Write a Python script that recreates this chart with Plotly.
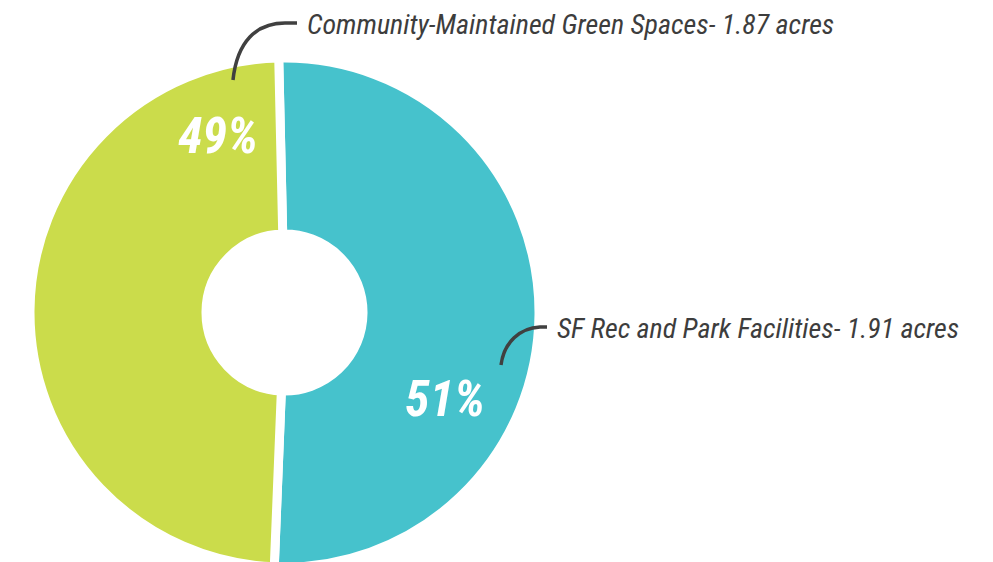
import plotly.graph_objects as go

# ---- data ----
categories = ["SF Rec and Park Facilities", "Community-Maintained Green Spaces"]
acres = [1.91, 1.87]
percents = [51, 49]
colors = ["#46C2CC", "#CBDC4B"]

W, H = 993, 562
OFF = 8          # page body margin of the html page
MT, MB = 50, 3
PH = H - MT - MB

def px(x):
    return (x - OFF) / W

def py(y):
    return (H - MB - (y - OFF)) / PH

cx, r = 284.5 - OFF, 254.5
fig = go.Figure(go.Pie(
    labels=categories,
    values=percents,
    marker=dict(colors=colors, line=dict(color="white", width=9)),
    hole=0.3085,
    sort=False,
    direction="clockwise",
    rotation=-1.3,
    textinfo="none",
    hoverinfo="label+percent",
    showlegend=False,
    domain=dict(x=[(cx - r) / W, (cx + r) / W], y=[0, 1]),
))

FAM = "Roboto Condensed, Noto Sans Condensed, Liberation Sans Narrow, DejaVu Sans Condensed, sans-serif"
label_font = dict(family=FAM, size=28, color="#3d3d3d", style="italic")
pct_font = dict(family=FAM, size=50, color="white", weight="bold", style="italic")

anns = [
    dict(x=px(305), y=py(25), text=f"{categories[1]}- {acres[1]} acres",
         xanchor="left", yanchor="middle", font=label_font),
    dict(x=px(555), y=py(328), text=f"{categories[0]}- {acres[0]} acres",
         xanchor="left", yanchor="middle", font=label_font),
    dict(x=px(218), y=py(136), text=f"{percents[1]}%",
         xanchor="center", yanchor="middle", font=pct_font),
    dict(x=px(445), y=py(399), text=f"{percents[0]}%",
         xanchor="center", yanchor="middle", font=pct_font),
]
for a in anns:
    a.update(xref="paper", yref="paper", showarrow=False)

def path(pts):
    (x0, y0), (x1, y1), (x2, y2), (x3, y3), (x4, y4) = pts
    return (f"M {px(x0)},{py(y0)} C {px(x1)},{py(y1)} {px(x2)},{py(y2)} {px(x3)},{py(y3)} "
            f"L {px(x4)},{py(y4)}")

line_style = dict(color="#404040", width=3.5)
shapes = [
    dict(type="path", xref="paper", yref="paper",
         path=path([(233, 80), (237, 42), (256, 23), (285, 23), (297, 23)]),
         line=line_style),
    dict(type="path", xref="paper", yref="paper",
         path=path([(501, 365), (504, 342), (520, 328), (540, 327), (547, 327)]),
         line=line_style),
]

fig.update_layout(
    width=W, height=H,
    margin=dict(l=0, r=0, t=MT, b=MB),
    paper_bgcolor="white", plot_bgcolor="white",
    annotations=anns, shapes=shapes,
)

fig.write_html("out.html")
